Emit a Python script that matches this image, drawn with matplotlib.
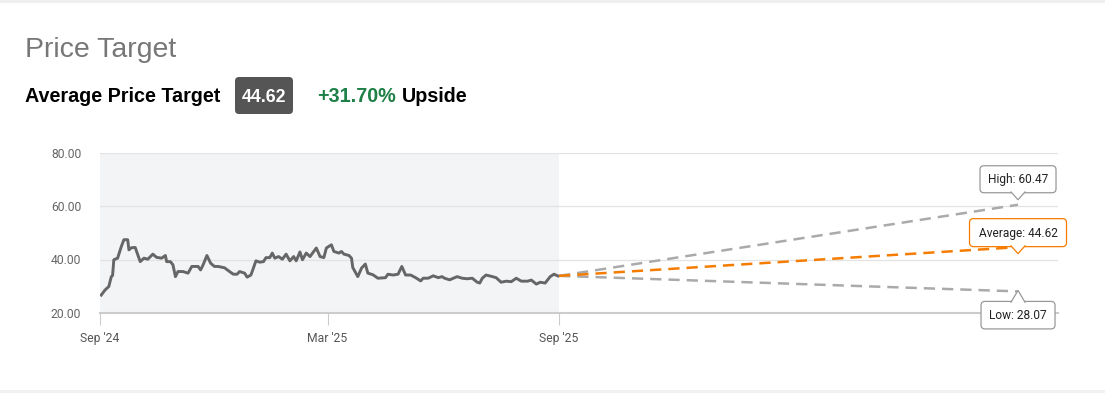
import matplotlib
matplotlib.use('Agg')
import matplotlib.pyplot as plt
from matplotlib.patches import FancyBboxPatch, Polygon, Rectangle

# price history, x = days since 1 Sep 2024
price_days = [1, 4, 7, 9, 10, 11, 14, 17, 19, 22, 23, 25, 28, 31, 32, 35, 38, 42, 45, 49,
              52, 53, 56, 58, 60, 62, 66, 70, 73, 78, 80, 82, 85, 88, 91, 94, 99, 103, 106, 109,
              111, 115, 117, 120, 122, 124, 127, 130, 132, 135, 137, 139, 142, 145, 148, 151, 154, 156, 159, 161,
              164, 167, 172, 175, 178, 180, 184, 186, 190, 192, 194, 198, 200, 201, 205, 208, 211, 213, 217, 221,
              227, 229, 233, 237, 240, 243, 247, 251, 255, 257, 261, 265, 269, 272, 274, 278, 284, 288, 292, 296,
              300, 302, 304, 307, 312, 315, 319, 323, 327, 331, 335, 340, 343, 347, 350, 354, 358, 361, 364]
price_vals = [26.7, 28.6, 29.9, 33.6, 34.0, 39.9, 40.5, 44.9, 47.4, 47.4, 43.6, 44.4, 44.5, 40.5, 39.2, 40.5, 40.1, 42.0, 40.8, 40.5,
              41.5, 39.2, 39.2, 38.0, 33.6, 35.5, 35.5, 34.9, 37.4, 37.4, 36.1, 38.0, 41.5, 38.6, 37.4, 37.4, 36.9, 35.5, 34.5, 34.5,
              35.5, 34.9, 33.4, 34.2, 36.8, 39.5, 39.0, 39.2, 40.7, 40.7, 42.4, 40.5, 41.1, 40.1, 42.0, 39.5, 41.1, 39.5, 42.8, 39.9,
              42.4, 41.1, 44.3, 41.1, 40.7, 44.3, 45.5, 43.0, 42.4, 43.0, 42.0, 41.5, 40.5, 37.0, 33.6, 36.8, 38.3, 34.9, 34.3, 33.0,
              33.2, 34.5, 34.2, 34.5, 37.4, 34.2, 34.2, 33.2, 32.0, 33.0, 33.0, 33.9, 33.2, 33.6, 33.0, 32.4, 33.6, 33.0, 32.8, 33.0,
              31.5, 31.2, 33.0, 34.2, 33.6, 33.2, 31.5, 31.9, 31.7, 33.0, 31.9, 31.9, 32.3, 30.8, 31.5, 31.2, 33.6, 34.5, 33.88]

current_price = 33.88
target_day = 730
targets = ['High', 'Average', 'Low']
target_vals = [60.47, 44.62, 28.07]
target_colors = ['#aaaaaa', '#f57c00', '#aaaaaa']
upside = '+31.70%'

tick_days = [0, 181, 365]
tick_labels = ["Sep '24", "Mar '25", "Sep '25"]
y_ticks = [20, 40, 60, 80]

W, H = 1105, 393
fig = plt.figure(figsize=(W / 100, H / 100), dpi=100)
fig.patch.set_facecolor('white')

# main chart
ax = fig.add_axes([100 / W, 80 / H, 958 / W, 160.5 / H])
ax.set_xlim(0, 761.8)
ax.set_ylim(20, 80)
ax.axvspan(0, 365, color='#f3f4f6', zorder=0, lw=0)
for yv in y_ticks[1:]:
    ax.axhline(yv, color='#e3e3e3', lw=0.9, zorder=1)
ax.plot(price_days, price_vals, color='#666666', lw=2.1, zorder=4, solid_joinstyle='round')
for name, val, col in zip(targets, target_vals, target_colors):
    ax.plot([365, target_day], [current_price, val], color=col, lw=1.8,
            ls=(0, (4.5, 2.8)), zorder=5 if name == 'Average' else 3)

ax.set_yticks(y_ticks)
ax.set_yticklabels(['%.2f' % v for v in y_ticks])
ax.set_xticks(tick_days)
ax.set_xticklabels(tick_labels)
for s in ['top', 'right', 'left']:
    ax.spines[s].set_visible(False)
ax.spines['bottom'].set_color('#cccccc')
ax.spines['bottom'].set_linewidth(1.5)
ax.tick_params(axis='y', length=0, pad=13.5, labelsize=8.7, labelcolor='#666666')
ax.tick_params(axis='x', length=8.6, width=0.8, color='#cccccc', pad=5,
               labelsize=8.7, labelcolor='#555555')
for lbl in ax.get_xticklabels() + ax.get_yticklabels():
    lbl.set_fontfamily('Roboto')

# overlay in pixel coordinates for header and callouts
ov = fig.add_axes([0, 0, 1, 1], zorder=10)
ov.set_xlim(0, W)
ov.set_ylim(H, 0)
ov.axis('off')
ov.patch.set_alpha(0)

ov.add_patch(Rectangle((0, 0), W, 2.5, color='#efefef', lw=0))
ov.add_patch(Rectangle((0, 389.5), W, 4, color='#f2f2f2', lw=0))

ov.text(25, 57, 'Price Target', fontsize=20.5, color='#777777',
        family='Liberation Sans', va='baseline')
ov.text(25, 102, 'Average Price Target', fontsize=14.2, fontweight='bold',
        color='black', family='Liberation Sans', va='baseline')
ov.add_patch(FancyBboxPatch((235, 77), 58, 37, boxstyle='round,pad=0,rounding_size=4',
                            fc='#555555', ec='none'))
ov.text(264, 102, '%.2f' % target_vals[1], fontsize=12.8, fontweight='bold', color='white',
        family='Liberation Sans', va='baseline', ha='center')
ov.text(317, 102, upside, fontsize=14.2, fontweight='bold', color='#1e8046',
        family='Liberation Sans', va='baseline')
ov.text(402, 102, 'Upside', fontsize=14.2, fontweight='bold', color='black',
        family='Liberation Sans', va='baseline')

# callouts: box width, box top/bottom offset from the point, pointer tip offset
box_w = [76, 97, 74]
box_off = [(-39, -12), (-28.5, -0.5), (10, 37.5)]
tip_off = [-5, 6.5, -1]
for name, val, col, bw, (b0, b1), toff in zip(targets, target_vals, target_colors,
                                              box_w, box_off, tip_off):
    dx, dy = ax.transData.transform((target_day, val))
    px, py = dx, H - dy
    ec = col if name == 'Average' else '#999999'
    top, bot = py + b0, py + b1
    ov.add_patch(FancyBboxPatch((px - bw / 2, top), bw, bot - top,
                                boxstyle='round,pad=0,rounding_size=4',
                                fc='white', ec=ec, lw=0.9, zorder=6))
    ty = py + toff
    base = bot - 0.8 if ty > bot else top + 0.8
    ov.add_patch(Polygon([(px - 7, base), (px, ty), (px + 7, base)], closed=True,
                         fc='white', ec='none', zorder=7))
    ov.plot([px - 7, px, px + 7], [base, ty, base], color=ec, lw=0.9, zorder=8)
    ov.text(px, (top + bot) / 2 + 0.5, '%s: %.2f' % (name, val), fontsize=8.6,
            family='Roboto', color='#222222', ha='center', va='center', zorder=9)

fig.savefig('out.png', dpi=100, facecolor='white')
